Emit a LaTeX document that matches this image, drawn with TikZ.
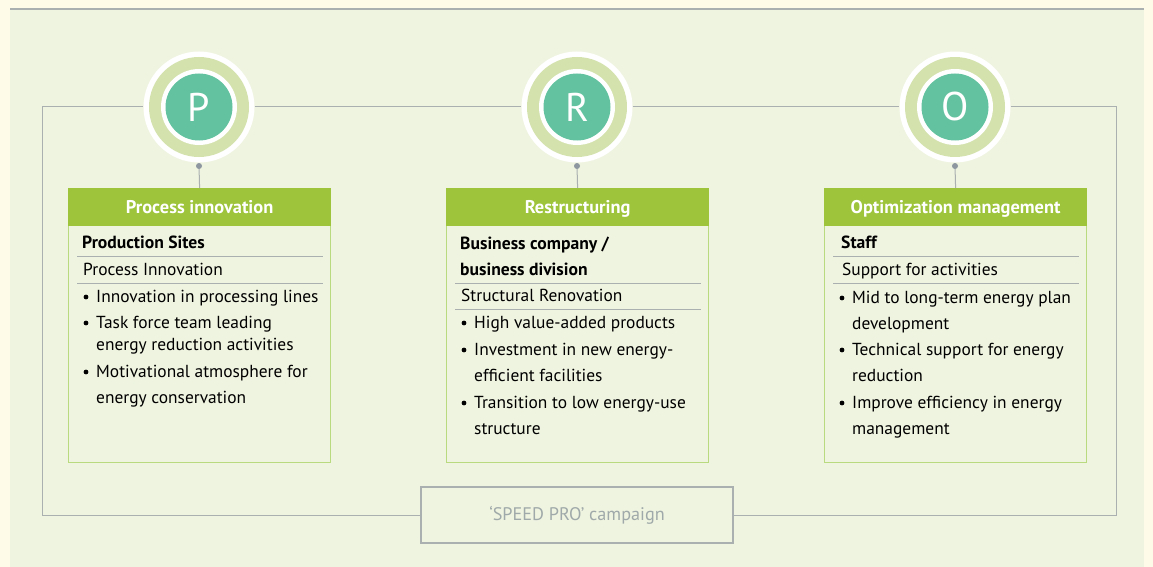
\documentclass[tikz,border=0pt]{standalone}
\usepackage{fontspec}
\setmainfont{PT Sans}
\definecolor{cream}{HTML}{FEFCE8}
\definecolor{panel}{HTML}{EFF4E0}
\definecolor{frame}{HTML}{AAB0B0}
\definecolor{ring}{HTML}{D4E2AE}
\definecolor{teal}{HTML}{63C3A0}
\definecolor{head}{HTML}{9DC43A}
\definecolor{boxline}{HTML}{B9DA7E}
\definecolor{dotgray}{HTML}{8E97A0}
\definecolor{camptext}{HTML}{A0A9A9}
\newcommand{\txt}{\fontsize{17.4}{20}\selectfont}
% badge: outer white disc, light green ring, white ring, teal disc with letter
\newcommand{\badge}[3]{\node[circle,fill=white,minimum size=111pt,inner sep=0pt] (#1) at (#2) {};
	\fill[ring] (#1) circle (50pt);
	\fill[white] (#1) circle (38pt);
	\node[circle,fill=teal,minimum size=67pt,inner sep=0pt,text=white,font=\fontsize{40}{40}\selectfont] (#1t) at (#1) {#3}}
\newcommand{\itm}[4]{\fill (#2-2,#3-5) circle (2.4pt);
	\node[line,anchor=base west] (#1) at (#2+8,#3) {#4}}

\begin{document}
\begin{tikzpicture}[x=1pt,y=-1pt,
	line/.style={inner sep=0pt,font=\txt,text=black},
	ttl/.style={line,font=\fontsize{17.6}{20}\selectfont\bfseries},
	box/.style={draw=boxline,line width=1.2pt,minimum width=262pt,minimum height=274pt,anchor=north west,inner sep=0pt},
	hdr/.style={fill=head,minimum width=263pt,minimum height=38pt,anchor=north,text=white,font=\fontsize{18.4}{20}\selectfont\bfseries,inner sep=0pt,text height=14.5pt,text depth=1.5pt},
	rule/.style={draw=frame,line width=1pt},
	dot/.style={circle,fill=dotgray,minimum size=6pt,inner sep=0pt}]
\useasboundingbox (0,0) rectangle (1153,567);
\fill[cream] (0,0) rectangle (1153,567);
\fill[panel] (10,9) rectangle (1144,567);
\draw[frame,line width=2pt] (10,9) -- (1144,9);
%
\coordinate (tl) at (42,107);
\coordinate (tr) at (1116,107);
\node[draw=frame,line width=1.2pt,minimum width=312pt,minimum height=56pt,inner sep=0pt,text=camptext,font=\fontsize{18.2}{20}\selectfont] (camp) at (577,515) {‘SPEED PRO’ campaign};
\badge{cP}{199,107}{P};
\badge{cR}{577,107}{R};
\badge{cO}{955,107}{O};
\draw[rule] (camp.west) -| (tl) -- (cP.west);
\draw[rule] (cP.east) -- (cR.west);
\draw[rule] (cR.east) -- (cO.west);
\draw[rule] (cO.east) -- (tr) |- (camp.east);
%
\node[box] (b1) at (68,188) {};
\node[box] (b2) at (446,188) {};
\node[box] (b3) at (824,188) {};
\node[hdr] (h1) at (b1.north) {Process innovation};
\node[hdr] (h2) at (b2.north) {Restructuring};
\node[hdr] (h3) at (b3.north) {Optimization management};
\node[dot] (d1) at (199,166) {};
\node[dot] (d2) at (577,166) {};
\node[dot] (d3) at (955,166) {};
\draw[rule] (d1) -- (h1.north);
\draw[rule] (d2) -- (h2.north);
\draw[rule] (d3) -- (h3.north);
%
\node[ttl,anchor=base west] (t1) at (82,248) {Production Sites};
\draw[rule] (77,256) -- (323,256);
\node[line,anchor=base west] (s1) at (83,275) {Process Innovation};
\draw[rule] (77,283) -- (323,283);
\itm{a1}{88}{302}{Innovation in processing lines};
\itm{a2}{88}{328}{Task force team leading};
\node[line,anchor=base west] (a3) at (96,350) {energy reduction activities};
\itm{a4}{88}{377}{Motivational atmosphere for};
\node[line,anchor=base west] (a5) at (96,403) {energy conservation};
%
\node[ttl,anchor=base west] (t2) at (460,249) {Business company /};
\node[ttl,anchor=base west] (t2b) at (460,275) {business division};
\draw[rule] (455,283) -- (701,283);
\node[line,anchor=base west] (s2) at (461,301) {Structural Renovation};
\draw[rule] (455,309) -- (701,309);
\itm{r1}{466}{328}{High value-added products};
\itm{r2}{466}{355}{Investment in new energy-};
\node[line,anchor=base west] (r3) at (474,381) {efficient facilities};
\itm{r4}{466}{408}{Transition to low energy-use};
\node[line,anchor=base west] (r5) at (474,434) {structure};
%
\node[ttl,anchor=base west] (t3) at (841,248) {Staff};
\draw[rule] (833,256) -- (1079,256);
\node[line,anchor=base west] (s3) at (842,275) {Support for activities};
\draw[rule] (833,283) -- (1079,283);
\itm{o1}{844}{303}{Mid to long-term energy plan};
\node[line,anchor=base west] (o2) at (852,329) {development};
\itm{o3}{844}{355}{Technical support for energy};
\node[line,anchor=base west] (o4) at (852,381) {reduction};
\itm{o5}{844}{408}{Improve efficiency in energy};
\node[line,anchor=base west] (o6) at (852,434) {management};
\end{tikzpicture}
\end{document}
